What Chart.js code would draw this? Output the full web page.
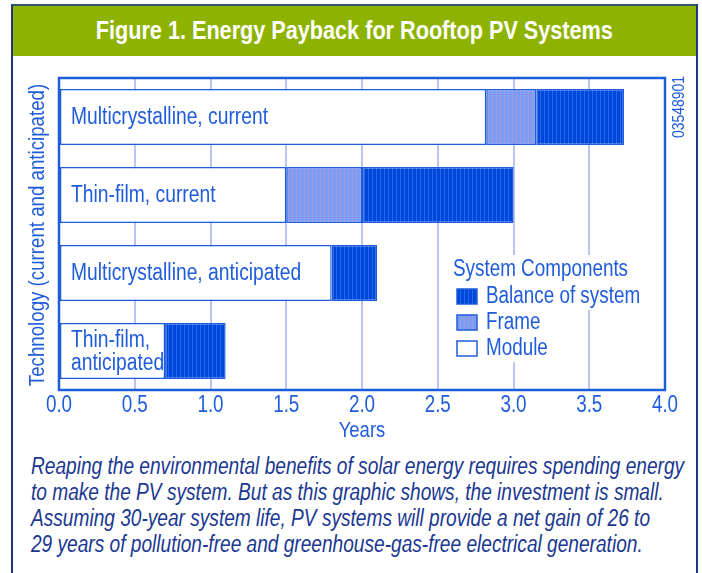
<!DOCTYPE html>
<html>
<head>
<meta charset="utf-8">
<script src="https://cdn.jsdelivr.net/npm/chart.js@4"></script>
<style>
body { margin:0; background:#fff; width:702px; height:573px; overflow:hidden; position:relative;
  font-family:'Liberation Sans',Arial,sans-serif; }
#frame { position:absolute; left:11px; top:4px; width:683px; height:620px; border:2px solid #1d3a80; border-top-color:#2f5568; }
#title { position:absolute; left:0; top:0; width:683px; height:50px; background:#8db300; color:#fff; text-align:center; }
#title span { display:inline-block; font-weight:bold; font-size:26.4px; line-height:48px; white-space:nowrap;
  transform:scaleX(0.82); transform-origin:center; }
#chart { position:absolute; left:0; top:56px; }
#caption { position:absolute; left:31px; top:453px; font-style:italic; font-size:23.3px; line-height:26px; color:#1a3791;
  white-space:nowrap; transform:scaleX(0.82); transform-origin:left top; }
</style>
</head>
<body>
<div id="frame"><div id="title"><span>Figure 1. Energy Payback for Rooftop PV Systems</span></div></div>
<canvas id="chart" width="702" height="392"></canvas>
<div id="caption">Reaping the environmental benefits of solar energy requires spending energy<br>to make the PV system. But as this graphic shows, the investment is small.<br>Assuming 30-year system life, PV systems will provide a net gain of 26 to<br>29 years of pollution-free and greenhouse-gas-free electrical generation.</div>
<script>
var categories = ["Multicrystalline, current", "Thin-film, current", "Multicrystalline, anticipated", ["Thin-film,", "anticipated"]];
var moduleYears = [2.82, 1.5, 1.8, 0.7];
var frameYears = [0.33, 0.5, null, null];
var bosYears = [0.58, 1.0, 0.3, 0.4];
var tickLabels = ["0.0", "0.5", "1.0", "1.5", "2.0", "2.5", "3.0", "3.5", "4.0"];

var FONT = "'Liberation Sans',Arial,sans-serif";
var BLUE = "#1f5cdc";
var NARROW = 0.82;

function stripes(base, stripe) {
	var c = document.createElement("canvas");
	c.width = 4; c.height = 4;
	var g = c.getContext("2d");
	g.fillStyle = base; g.fillRect(0, 0, 4, 4);
	g.fillStyle = stripe; g.fillRect(0, 0, 1, 4);
	return g.createPattern(c, "repeat");
}

// condensed text: regular face squeezed horizontally
function narrowText(ctx, text, x, y, size, align, rot) {
	ctx.save();
	ctx.translate(x, y);
	if (rot) ctx.rotate(rot);
	ctx.scale(NARROW, 1);
	ctx.font = size + "px " + FONT;
	ctx.textAlign = align;
	ctx.textBaseline = "middle";
	ctx.fillText(text, 0, 0);
	ctx.restore();
}
function narrowWidth(ctx, text, size) {
	ctx.save();
	ctx.font = size + "px " + FONT;
	var w = ctx.measureText(text).width * NARROW;
	ctx.restore();
	return w;
}

var decor = {
	id: "decor",
	afterDatasetsDraw: function(chart) {
		var ctx = chart.ctx, a = chart.chartArea, xScale = chart.scales.x, yScale = chart.scales.y;
		ctx.save();
		ctx.fillStyle = BLUE;
		categories.forEach(function(c, i) {
			var lines = [].concat(c);
			var cy = yScale.getPixelForValue(i);
			lines.forEach(function(l, j) {
				narrowText(ctx, l, a.left + 12, cy + 1 + (j - (lines.length - 1) / 2) * 23, 23.5, "left");
			});
		});

		// legend inside the plot
		var lx = 453, ly = 213;
		var rows = [{text: "System Components", x: lx, y: ly}];
		chart.data.datasets.slice().reverse().forEach(function(ds, k) {
			rows.push({text: ds.label, x: lx + 33, y: ly + 27 + k * 26, ds: ds});
		});
		rows.forEach(function(r) {
			var w = narrowWidth(ctx, r.text, 23);
			var x0 = r.ds ? r.x - 33 : r.x;
			ctx.fillStyle = "#fff";
			ctx.fillRect(x0 - 5, r.y - 14, (r.x - x0) + w + 10, 28);
		});
		rows.forEach(function(r) {
			if (r.ds) {
				ctx.fillStyle = r.ds.backgroundColor;
				ctx.fillRect(r.x - 29, r.y - 7, 20, 15);
				ctx.strokeStyle = BLUE;
				ctx.lineWidth = 1.5;
				ctx.strokeRect(r.x - 29, r.y - 7, 20, 15);
			}
			ctx.fillStyle = BLUE;
			narrowText(ctx, r.text, r.x, r.y + 1, 23, "left");
		});

		ctx.lineWidth = 2.5;
		ctx.strokeStyle = BLUE;
		ctx.strokeRect(a.left, a.top, a.right - a.left, a.bottom - a.top);

		// tick labels and axis titles on the library's scale positions
		ctx.fillStyle = BLUE;
		xScale.ticks.forEach(function(t, i) {
			narrowText(ctx, tickLabels[i], xScale.getPixelForValue(t.value), a.bottom + 16, 23, "center");
		});
		narrowText(ctx, "Years", (a.left + a.right) / 2, a.bottom + 41, 22.5, "center");
		narrowText(ctx, "Technology (current and anticipated)", 38, (a.top + a.bottom) / 2 + 1, 22.8, "center", -Math.PI / 2);
		narrowText(ctx, "03548901", 679, 51, 17, "center", -Math.PI / 2);
		ctx.restore();
	}
};

var barStyle = {borderColor: BLUE, borderWidth: 1.5, borderSkipped: false, barPercentage: 0.72, categoryPercentage: 1};

var chart = new Chart(document.getElementById("chart"), {
	type: "bar",
	data: {
		labels: categories,
		datasets: [
			Object.assign({label: "Module", data: moduleYears, backgroundColor: "#ffffff"}, barStyle),
			Object.assign({label: "Frame", data: frameYears, backgroundColor: stripes("#7b9cf0", "#9a9ce6")}, barStyle),
			Object.assign({label: "Balance of system", data: bosYears, backgroundColor: stripes("#0046d8", "#1f6af2")}, barStyle)
		]
	},
	options: {
		indexAxis: "y",
		responsive: false,
		animation: false,
		layout: {padding: {left: 0, right: 37, top: 22, bottom: 0}},
		plugins: {legend: {display: false}, tooltip: {enabled: false}},
		scales: {
			x: {
				stacked: true, min: 0, max: 4,
				afterFit: function(s) { s.height = 58; },
				ticks: {stepSize: 0.5, display: false},
				grid: {color: "#bac4f0", lineWidth: 2, drawTicks: false},
				border: {display: false}
			},
			y: {
				stacked: true,
				afterFit: function(s) { s.width = 59; },
				ticks: {display: false},
				grid: {display: false},
				border: {display: false}
			}
		}
	},
	plugins: [decor]
});
</script>
</body>
</html>
